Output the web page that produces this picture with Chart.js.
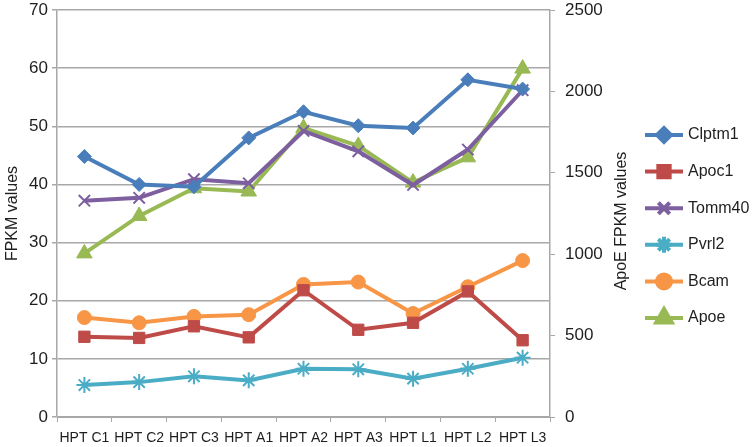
<!DOCTYPE html>
<html>
<head>
<meta charset="utf-8">
<script src="https://cdn.jsdelivr.net/npm/chart.js@4/dist/chart.umd.min.js"></script>
<style>
  html, body { margin: 0; padding: 0; background: #fff; }
  #wrap { width: 753px; height: 447px; position: relative; }
</style>
</head>
<body>
<div id="wrap"><canvas id="fpkmChart"></canvas></div>
<script>
// Samples
const samples = ['HPT C1', 'HPT C2', 'HPT C3', 'HPT A1', 'HPT A2', 'HPT A3', 'HPT L1', 'HPT L2', 'HPT L3'];

// FPKM values (left axis)
const clptm1 = [44.8, 40.0, 39.6, 48.0, 52.5, 50.1, 49.7, 58.0, 56.4];
const apoc1  = [13.8, 13.6, 15.6, 13.7, 21.8, 15.0, 16.2, 21.6, 13.2];
const tomm40 = [37.2, 37.7, 40.9, 40.2, 49.2, 45.7, 39.9, 46.0, 56.2];
const pvrl2  = [5.5, 6.0, 7.0, 6.3, 8.3, 8.2, 6.6, 8.3, 10.2];
const bcam   = [17.1, 16.2, 17.3, 17.6, 22.8, 23.2, 17.8, 22.4, 26.9];

// ApoE FPKM values (right axis)
const apoe = [1005, 1235, 1405, 1385, 1775, 1665, 1440, 1595, 2140];

// Tick labels
const leftTicks = [0, 10, 20, 30, 40, 50, 60, 70];
const rightTicks = [0, 500, 1000, 1500, 2000, 2500];

const FONT = '"Liberation Sans", Arial, Helvetica, sans-serif';
const TXT = '#1e1e1e';
const GRID = '#a8a8a8';

function serie(label, data, color, style, radius, axis) {
    const stroke = (style === 'crossRot' || style === 'star');
    return {
        label: label,
        data: data,
        yAxisID: axis || 'y',
        borderColor: color,
        backgroundColor: color,
        borderWidth: 4,
        pointStyle: style,
        pointRadius: radius,
        pointHoverRadius: radius,
        pointBorderWidth: stroke ? 2 : 1,
        pointBackgroundColor: color,
        pointBorderColor: color,
        tension: 0
    };
}

// Legend di kanan (garis + marker)
const sideLegend = {
    id: 'sideLegend',
    afterDraw(chart) {
        const ctx = chart.ctx;
        ctx.save();
        chart.data.datasets.forEach((ds, i) => {
            const y = 135 + i * 36.6;
            ctx.strokeStyle = ds.borderColor;
            ctx.lineWidth = 4;
            ctx.beginPath();
            ctx.moveTo(645, y);
            ctx.lineTo(683, y);
            ctx.stroke();
            ctx.fillStyle = ds.backgroundColor;
            ctx.strokeStyle = ds.borderColor;
            Chart.helpers.drawPoint(ctx, {
                pointStyle: ds.pointStyle,
                radius: ds.pointRadius,
                rotation: 0,
                borderWidth: ds.pointBorderWidth
            }, 664, y);
            ctx.fillStyle = TXT;
            ctx.font = '16px ' + FONT;
            ctx.textAlign = 'left';
            ctx.textBaseline = 'middle';
            ctx.fillText(ds.label, 688, y);
        });

        // judul sumbu kanan
        ctx.translate(622, 221);
        ctx.rotate(-Math.PI / 2);
        ctx.fillStyle = TXT;
        ctx.font = '16px ' + FONT;
        ctx.textAlign = 'center';
        ctx.textBaseline = 'middle';
        ctx.fillText('ApoE FPKM values', 0, 0);
        ctx.restore();
    }
};

// lebar sumbu dipaku supaya area plot pas
function fixWidth(w) {
    return s => {
        s.width = w;
        s.paddingTop = 0;
        s.paddingBottom = 0;
    };
}

const ctx = document.getElementById('fpkmChart').getContext('2d');
new Chart(ctx, {
    type: 'line',
    data: {
        labels: samples,
        datasets: [
            serie('Clptm1', clptm1, '#4a7ebb', 'rectRot', 7),
            serie('Apoc1', apoc1, '#be4b48', 'rect', 8),
            serie('Tomm40', tomm40, '#7d5fa0', 'crossRot', 8),
            serie('Pvrl2', pvrl2, '#4aacc5', 'star', 8),
            serie('Bcam', bcam, '#f79646', 'circle', 7),
            serie('Apoe', apoe, '#98b954', 'triangle', 9, 'y1')
        ]
    },
    options: {
        responsive: true,
        maintainAspectRatio: false,
        animation: false,
        layout: { padding: { left: 0, top: 9, right: 123, bottom: 0 } },
        plugins: {
            legend: { display: false },
            tooltip: { enabled: false }
        },
        scales: {
            x: {
                offset: true,
                afterFit: s => {
                    s.height = 30;
                    s.paddingLeft = 0;
                    s.paddingRight = 0;
                },
                grid: {
                    offset: true,
                    drawOnChartArea: false,
                    color: GRID,
                    tickLength: 5
                },
                border: { color: GRID, width: 1 },
                ticks: {
                    color: TXT,
                    font: { family: FONT, size: 14 },
                    autoSkip: false,
                    maxRotation: 0,
                    minRotation: 0,
                    padding: 8
                }
            },
            y: {
                position: 'left',
                min: 0,
                max: 70,
                afterFit: fixWidth(57),
                afterBuildTicks: s => { s.ticks = leftTicks.map(v => ({ value: v })); },
                title: {
                    display: true,
                    text: 'FPKM values',
                    color: TXT,
                    font: { family: FONT, size: 16 },
                    padding: { top: 3, bottom: 0 }
                },
                grid: { color: GRID, lineWidth: 1.5, tickLength: 5 },
                border: { color: GRID, width: 1.5 },
                ticks: {
                    color: TXT,
                    font: { family: FONT, size: 17 },
                    padding: 4
                }
            },
            y1: {
                position: 'right',
                min: 0,
                max: 2500,
                afterFit: fixWidth(80),
                afterBuildTicks: s => { s.ticks = rightTicks.map(v => ({ value: v })); },
                grid: { drawOnChartArea: false, color: GRID, tickLength: 5 },
                border: { color: GRID, width: 1.5 },
                ticks: {
                    color: TXT,
                    font: { family: FONT, size: 17 },
                    padding: 10,
                    callback: v => String(v)
                }
            }
        }
    },
    plugins: [sideLegend]
});
</script>
</body>
</html>
